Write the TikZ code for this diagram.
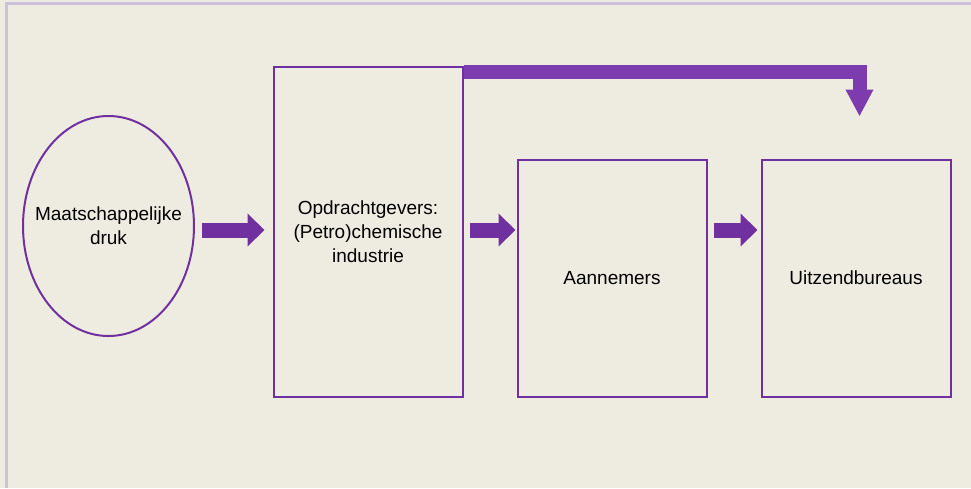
\documentclass[tikz,border=0pt]{standalone}
\usepackage{fontspec}
\setmainfont{Liberation Sans}
\usepackage{tikz}
\usetikzlibrary{shapes,positioning,calc}
\usetikzlibrary{shapes.geometric}
\usetikzlibrary{arrows.meta}
\definecolor{paars}{HTML}{7030A0}
\definecolor{paarsband}{HTML}{7D3CAE}
\definecolor{achtergrond}{HTML}{EEECE1}
\definecolor{lavendel}{HTML}{CCC0DA}
\tikzstyle{kader} = [rectangle, minimum width=189pt, line width=2pt, draw=paars, align=center, inner sep=0pt]
\tikzstyle{druk} = [ellipse, minimum width=171pt, minimum height=220pt, line width=2pt, draw=paars, align=center, inner xsep=-20pt, inner ysep=0pt]
\tikzstyle{pijl} = [paars, line width=15pt, -{Triangle[length=17pt,width=32pt]}]
\tikzstyle{pijlband} = [paarsband, line width=14pt, -{Triangle[length=27pt,width=26pt]}]

\begin{document}
\begin{tikzpicture}[x=1pt, y=-1pt, font=\fontsize{19}{24}\selectfont]
				\fill[achtergrond] (0,0) rectangle (971,488);
				\useasboundingbox (0,0) rectangle (971,488);
				\draw[lavendel, line width=2.5pt] (6.5,488) -- (6.5,3.5) -- (971,3.5);
				\coordinate (rij) at (0,230);
				\node (m) at (108.5,226) [druk] {Maatschappelijke\\druk};
				\node (o) at (368,231.5) [kader, minimum height=330pt] {Opdrachtgevers:\\(Petro)chemische\\industrie};
				\node (a) at (612,278) [kader, minimum height=237pt] {Aannemers};
				\node (u) at (856,278) [kader, minimum height=237pt] {Uitzendbureaus};
				\draw[pijl, shorten <=7pt, shorten >=8pt] (m.east |- rij) -- (o.west |- rij);
				\draw[pijl, shorten <=6pt, shorten >=1pt] (o.east |- rij) -- (a.west |- rij);
				\draw[pijl, shorten <=6pt, shorten >=3pt] (a.east |- rij) -- (u.west |- rij);
				\draw[pijlband, shorten >=42pt] ([yshift=-6pt]o.north east) -| ([xshift=3.5pt]u.north);
\end{tikzpicture}
\end{document}
